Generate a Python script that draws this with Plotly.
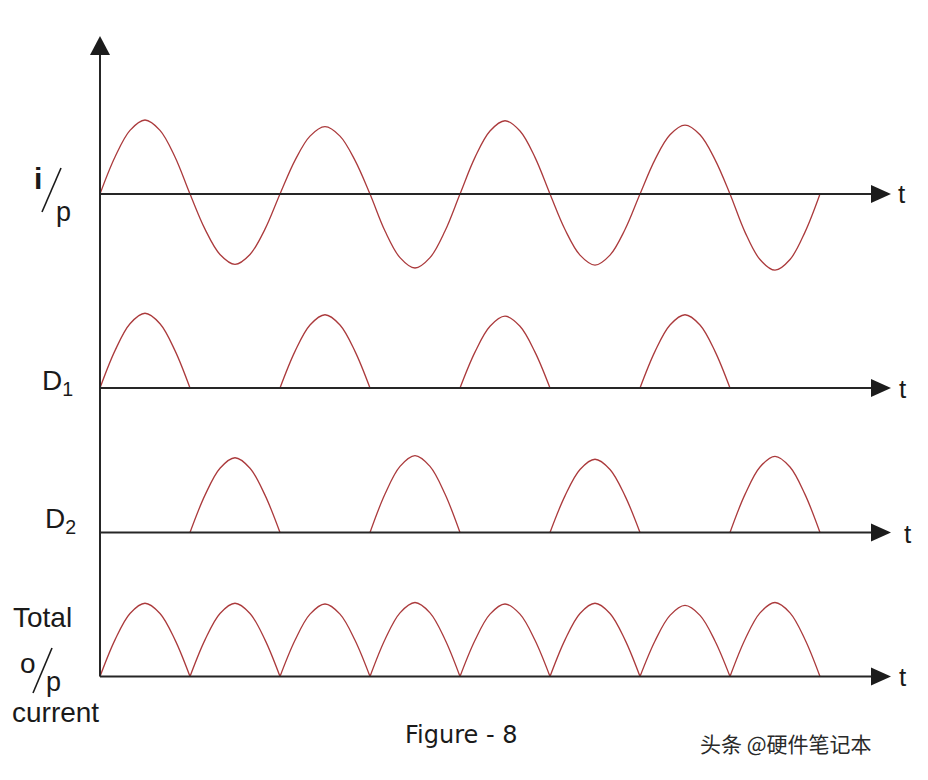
import plotly.graph_objects as go

# ---------------- data ----------------
half_cycle_edges = [0, 1, 2, 3, 4, 5, 6, 7, 8]          # time, in half-periods
input_peaks = [1.00, -0.95, 0.91, -1.00, 0.99, -0.96, 0.93, -1.03]
d1_cycles = [0, 2, 4, 6]
d1_peaks = [1.01, 0.99, 0.97, 0.99]
d2_cycles = [1, 3, 5, 7]
d2_peaks = [1.01, 1.04, 0.99, 1.03]
total_cycles = [0, 1, 2, 3, 4, 5, 6, 7]
total_peaks = [0.99, 0.99, 0.98, 1.00, 0.98, 0.99, 0.96, 1.00]
# profile of one hump (position in half-cycle, fraction of peak)
profile_pos = [0.0, 1 / 6, 2 / 6, 0.5, 4 / 6, 5 / 6]
profile_frac = [0.0, 0.50, 0.86, 1.0, 0.86, 0.50]
axis_label = "t"
caption = "Figure - 8"
watermark = "头条 @硬件笔记本"

# ---------------- layout constants ----------------
W, H, OFF = 912, 764, 8           # figure size, page offset (body margin)
X_ORIGIN, X_UNIT = 100, 90        # page px of t=0, px per half-period
Y_UNIT = 74                       # px per amplitude unit
BASELINES = [194, 388, 532.5, 676.5]   # page y of each row's time axis
T_TIP = (891 - X_ORIGIN) / X_UNIT
T_LINE_END = (874 - X_ORIGIN) / X_UNIT
AX_COL = "#262626"
WAVE_COL = "#ab3a3c"


def px(X):
    return (X - OFF) / W


def py(Y):
    return 1 - (Y - OFF) / H


def hump_points(t0, t1, p):
    d = t1 - t0
    xs = [t0 + f * d for f in profile_pos]
    ys = [fr * p for fr in profile_frac]
    return xs, ys


def full_wave(edges, peaks):
    xs, ys = [], []
    for k, p in enumerate(peaks):
        hx, hy = hump_points(edges[k], edges[k + 1], p)
        xs += hx
        ys += hy
    xs.append(edges[len(peaks)])
    ys.append(0)
    return xs, ys


def humps(edges, cycles, peaks):
    xs, ys = [], []
    for c, p in zip(cycles, peaks):
        hx, hy = hump_points(edges[c], edges[c + 1], p)
        xs += hx + [edges[c + 1], None]
        ys += hy + [0, None]
    return xs, ys


fig = go.Figure()
series = [
    full_wave(half_cycle_edges, input_peaks),
    humps(half_cycle_edges, d1_cycles, d1_peaks),
    humps(half_cycle_edges, d2_cycles, d2_peaks),
    humps(half_cycle_edges, total_cycles, total_peaks),
]
yrefs = ["y", "y2", "y3", "y4"]
for (xs, ys), yr in zip(series, yrefs):
    fig.add_trace(go.Scatter(x=xs, y=ys, mode="lines", yaxis=yr, xaxis="x",
                             line=dict(color=WAVE_COL, width=1.3, shape="spline", smoothing=1.0),
                             connectgaps=False, hoverinfo="skip", showlegend=False))

layout_axes = {}
for i, B in enumerate(BASELINES):
    fy = B - OFF
    name = "yaxis" if i == 0 else f"yaxis{i + 1}"
    ax = dict(range=[(fy - H) / Y_UNIT, fy / Y_UNIT], visible=False, domain=[0, 1], fixedrange=True)
    if i > 0:
        ax["overlaying"] = "y"
    layout_axes[name] = ax

shapes = []
for yr in yrefs:
    shapes.append(dict(type="line", xref="x", yref=yr, x0=0, x1=T_LINE_END, y0=0, y1=0,
                       line=dict(color=AX_COL, width=2)))
    shapes.append(dict(type="path", xref="x", yref=yr, xsizemode="pixel", ysizemode="pixel",
                       xanchor=T_TIP, yanchor=0, path="M0,0 L-20,9 L-20,-9 Z",
                       fillcolor="#1c1c1c", line=dict(width=0)))
# vertical axis
shapes.append(dict(type="line", xref="x", yref="paper", x0=0, x1=0,
                   y0=py(BASELINES[-1]), y1=py(50), line=dict(color=AX_COL, width=2)))
shapes.append(dict(type="path", xref="x", yref="paper", xsizemode="pixel", ysizemode="pixel",
                   xanchor=0, yanchor=py(36), path="M0,0 L-10,-19 L10,-19 Z",
                   fillcolor="#1c1c1c", line=dict(width=0)))
# the slashes of the "i/p" and "o/p" labels
for (xa, ya, xb, yb) in [(42, 212, 61, 168), (33, 693, 52, 648)]:
    shapes.append(dict(type="line", xref="paper", yref="paper", x0=px(xa), y0=py(ya),
                       x1=px(xb), y1=py(yb), line=dict(color="#1a1a1a", width=1.6)))

LBL = "Liberation Sans, Arial, sans-serif"
TXT = "#1a1a1a"


def ann(text, X, Y, size, family=LBL, xa="center", ya="middle", color=TXT):
    return dict(text=text, x=px(X), y=py(Y), xref="paper", yref="paper", showarrow=False,
                xanchor=xa, yanchor=ya, font=dict(family=family, size=size, color=color))


annotations = [
    ann(axis_label, 902, 194, 26),
    ann(axis_label, 903, 389, 26),
    ann(axis_label, 908, 534, 26),
    ann(axis_label, 903, 677, 26),
    # i/p
    ann("<b>i</b>", 38, 178, 30),
    ann("p", 63, 212, 27),
    # D1, D2
    ann("D<sub>1</sub>", 40, 383, 28, xa="left"),
    ann("D<sub>2</sub>", 43, 520, 28, xa="left"),
    # Total o/p current
    ann("Total", 11, 617, 28, xa="left"),
    ann("o", 28, 663, 28),
    ann("p", 53, 682, 27),
    ann("current", 10, 712, 28, xa="left"),
    ann(caption, 461, 735, 24, family="DejaVu Sans, sans-serif"),
    ann(watermark, 698, 743, 21, family="Noto Sans CJK SC", xa="left", color="#2a2a2a"),
]

fig.update_layout(
    width=W, height=H, margin=dict(l=0, r=0, t=0, b=0),
    paper_bgcolor="white", plot_bgcolor="rgba(0,0,0,0)",
    xaxis=dict(range=[(OFF - X_ORIGIN) / X_UNIT, (OFF + W - X_ORIGIN) / X_UNIT],
               visible=False, domain=[0, 1], fixedrange=True),
    shapes=shapes, annotations=annotations, showlegend=False,
    **layout_axes,
)

fig.write_html("out.html")
